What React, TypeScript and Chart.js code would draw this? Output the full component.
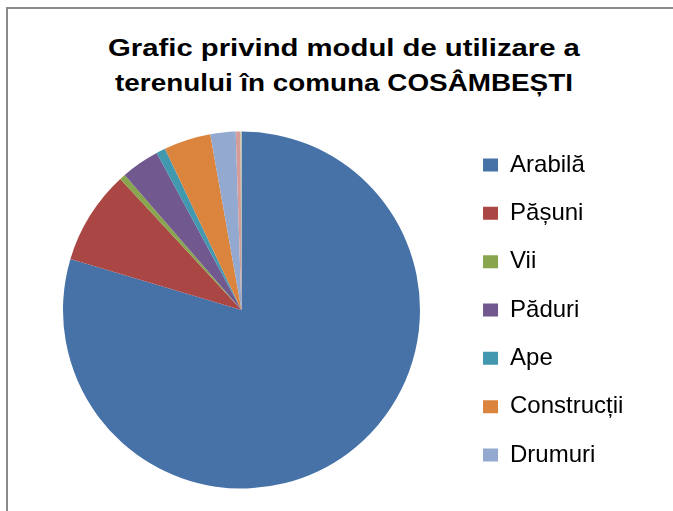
import React, { useEffect, useRef } from "react";
import { Chart, registerables } from "chart.js";

Chart.register(...registerables);

const titleLines = ["Grafic privind modul de utilizare a", "terenului în comuna COSÂMBEȘTI"];
const titleScales = [1.22, 1.16];
const categories = ["Arabilă", "Pășuni", "Vii", "Păduri", "Ape", "Construcții", "Drumuri", "Neproductiv", "Alte terenuri"];
const shares = [79.6, 8.5, 0.53, 3.47, 0.83, 4.25, 2.28, 0.44, 0.08];
const sliceColors = ["#4672A8", "#AA4643", "#89A54E", "#71588F", "#4198AF", "#DB843D", "#93A9CF", "#D69C9A", "#C8D69A"];
const legendCount = 7;

export default function App() {
  const ref = useRef<HTMLCanvasElement | null>(null);

  useEffect(() => {
    if (!ref.current) return;
    const chart = new Chart(ref.current, {
      type: "pie",
      data: {
        labels: categories,
        datasets: [
          {
            data: shares,
            backgroundColor: sliceColors,
            borderWidth: 0,
          },
        ],
      },
      options: {
        responsive: false,
        animation: false,
        radius: 178.5,
        layout: { padding: { left: 24.3, right: 39.6, top: 0, bottom: 0 } },
        plugins: {
          title: { display: false },
          tooltip: { enabled: false },
          legend: {
            position: "right",
            labels: {
              boxWidth: 15,
              boxHeight: 13,
              padding: 24.33,
              color: "#000",
              font: { family: "'Liberation Sans', Arial, sans-serif", size: 24 },
              filter: (item: any) => item.index < legendCount,
            },
          },
        },
      } as any,
    });
    return () => chart.destroy();
  }, []);

  return (
    <div style={{ position: "absolute", left: 0, top: 0, width: 673, height: 511, overflow: "hidden", background: "#fff" }}>
      <div
        style={{
          position: "absolute",
          left: 6,
          top: 7,
          width: 700,
          height: 600,
          borderLeft: "2px solid #8a8a8a",
          borderTop: "2px solid #8a8a8a",
        }}
      />
      <div
        style={{
          position: "absolute",
          left: 0,
          top: 30,
          width: 688,
          textAlign: "center",
          fontFamily: "'Liberation Sans', Arial, sans-serif",
          fontWeight: "bold",
          fontSize: 24,
          lineHeight: "35px",
          color: "#000",
        }}
      >
        {titleLines.map((t, i) => (
          <div key={i} style={{ transform: `scaleX(${titleScales[i]})`, transformOrigin: "344px 0" }}>
            {t}
          </div>
        ))}
      </div>
      <canvas
        ref={ref}
        width={673}
        height={400}
        style={{ position: "absolute", left: 0, top: 110, width: 673, height: 400 }}
      />
    </div>
  );
}
